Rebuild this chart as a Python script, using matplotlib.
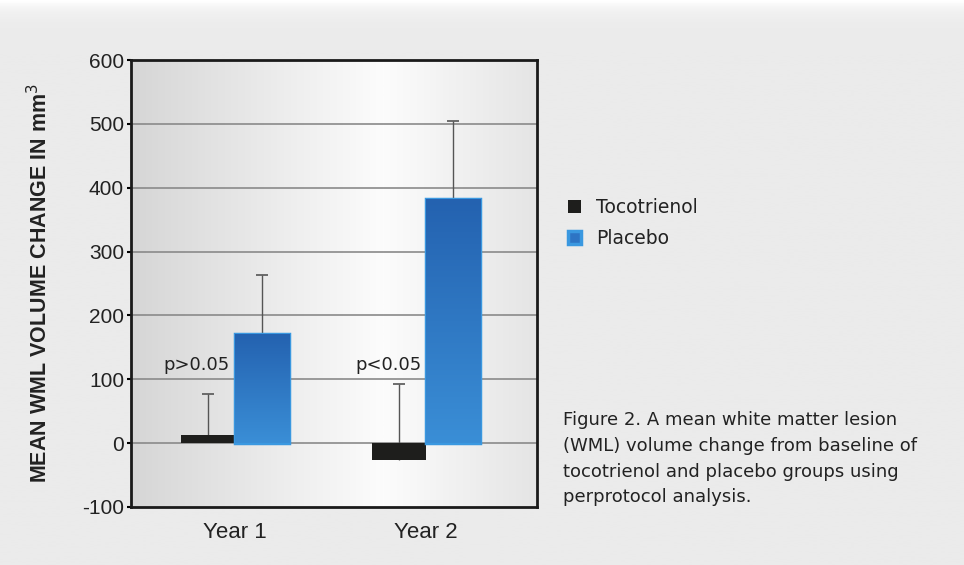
import numpy as np
import matplotlib
matplotlib.use("Agg")
import matplotlib.pyplot as plt
from matplotlib.colors import LinearSegmentedColormap

plt.rcParams['axes.unicode_minus'] = False

# data
years = ["Year 1", "Year 2"]
groups = ["Tocotrienol", "Placebo"]
toco_mean = [12, -27]
toco_err = [65, 120]
placebo_mean = [171, 383]
placebo_err = [92, 121]
p_labels = ["p>0.05", "p<0.05"]
y_ticks = [-100, 0, 100, 200, 300, 400, 500, 600]

caption = ("Figure 2. A mean white matter lesion\n"
           "(WML) volume change from baseline of\n"
           "tocotrienol and placebo groups using\n"
           "perprotocol analysis.")

narrow = "Liberation Sans"

fig = plt.figure(figsize=(9.64, 5.65), dpi=100)
fig.patch.set_facecolor("#ebebeb")

# page background with a light top edge
bg = fig.add_axes([0, 0, 1, 1], zorder=-10)
grad = np.linspace(1.0, 0.0, 200).reshape(-1, 1) ** 60
bg.imshow(grad, aspect="auto", extent=[0, 1, 0, 1],
          cmap=LinearSegmentedColormap.from_list("bgc", ["#ebebeb", "#ffffff"]),
          vmin=0, vmax=1)
bg.set_axis_off()

ax = fig.add_axes([0.1359, 0.1027, 0.4212, 0.7911])

# plot area gradient: grey edges, white middle
xs = np.linspace(0, 1, 300)
shade = 1 - np.abs(xs - 0.62) / 0.62
ax.imshow(shade.reshape(1, -1), aspect="auto", extent=[0, 1, 0, 1],
          transform=ax.transAxes, zorder=0,
          cmap=LinearSegmentedColormap.from_list("pa", ["#d6d6d6", "#fcfcfc"]),
          vmin=0, vmax=1)

x = np.arange(len(years))
w = 0.283

for yv in y_ticks[1:-1]:
    ax.axhline(yv, color="#8a8a8a", lw=1.2, zorder=1)

# upper error bars only
for xp, m, e in [(x - w / 2, toco_mean, toco_err), (x + w / 2, placebo_mean, placebo_err)]:
    _, caps, _ = ax.errorbar(xp, m, yerr=[[0, 0], e], fmt="none",
                             ecolor="#555555", elinewidth=1, capsize=4,
                             capthick=1.2, zorder=2)
    caps[0].set_visible(False)

tb = ax.bar(x - w / 2, toco_mean, w, color="#1e1e1c", zorder=3, label=groups[0])
pb = ax.bar(x + w / 2, placebo_mean, w, color="#2d74c4", edgecolor="#3a98e0",
            linewidth=2.5, zorder=3, label=groups[1])

# vertical gradient inside the blue bars
blue = LinearSegmentedColormap.from_list("bl", ["#3a8ed6", "#2462b0"])
for r in pb:
    x0, y0 = r.get_x(), r.get_y()
    im = ax.imshow(np.linspace(0, 1, 100).reshape(-1, 1), aspect="auto",
                   extent=[x0, x0 + r.get_width(), y0, y0 + r.get_height()],
                   origin="lower", cmap=blue, zorder=3.5)
    im.set_clip_path(r)
ax.set_xlim(-0.545, 1.58)
ax.set_ylim(-100, 600)

for i, t in enumerate(p_labels):
    ax.text(x[i] - 0.2, 122, t, ha="center", va="center", fontsize=13,
            color="#222222", zorder=5)

ax.set_yticks(y_ticks)
ax.set_yticklabels([str(v) for v in y_ticks], family=narrow, fontsize=15,
                   color="#222222")
ax.set_xticks(x)
ax.set_xticklabels(years, family=narrow, fontsize=16, color="#222222")
ax.tick_params(axis="x", length=0, pad=11)
ax.tick_params(axis="y", length=3, width=1.5, pad=2)
ax.set_ylabel("MEAN WML VOLUME CHANGE IN mm$^3$", family=narrow,
              fontweight="bold", fontsize=15.5, color="#222222")
ax.yaxis.set_label_coords(-0.195, 0.5)
for s in ax.spines.values():
    s.set_linewidth(2)
    s.set_color("#1a1a1a")
    s.set_zorder(6)

fig.legend(handles=[tb, pb], labels=groups, loc="upper left",
           bbox_to_anchor=(0.572, 0.68), frameon=False, fontsize=13.5,
           labelcolor="#222222", handlelength=0.7, handleheight=0.7,
           handletextpad=0.8, labelspacing=0.65)

fig.text(0.584, 0.188, caption, fontsize=13, color="#222222",
         linespacing=1.55, va="center", ha="left")

fig.savefig("out.png", dpi=100, facecolor=fig.get_facecolor())
